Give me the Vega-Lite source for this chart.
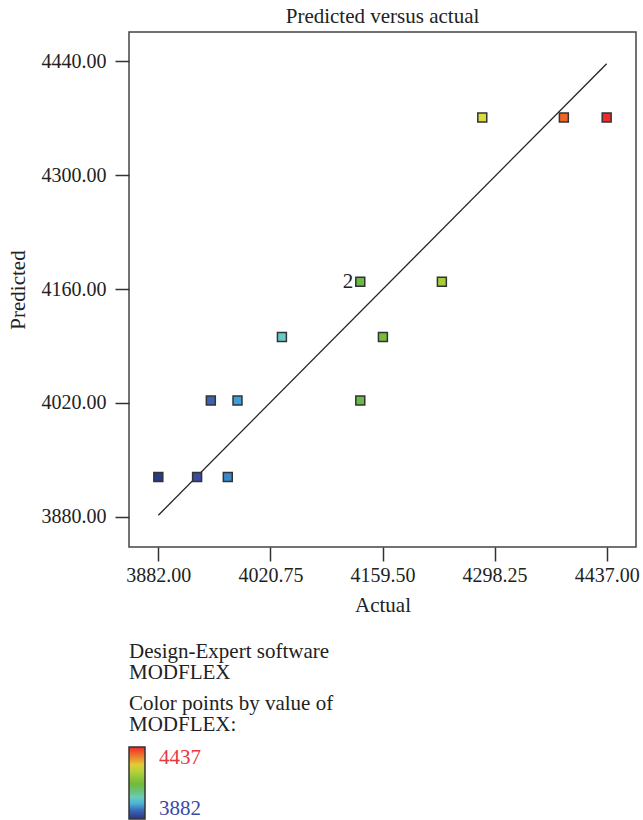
{
  "$schema": "https://vega.github.io/schema/vega-lite/v6.json",
  "width": 507,
  "height": 515,
  "autosize": {"type": "none"},
  "padding": {"left": 129, "top": 32, "right": 7, "bottom": 273},
  "background": "white",
  "title": {"text": "Predicted versus actual", "fontSize": 21, "font": "Liberation Serif", "fontWeight": "normal", "color": "#222", "offset": 5, "anchor": "middle"},
  "config": {
    "font": "Liberation Serif",
    "view": {"stroke": "#444", "strokeWidth": 1.5},
    "axis": {"domain": false, "grid": false, "tickColor": "#333", "tickWidth": 1.5, "tickSize": 14, "labelFont": "Liberation Serif", "labelFontSize": 20, "labelColor": "#222", "titleFont": "Liberation Serif", "titleFontSize": 21, "titleFontWeight": "normal", "titleColor": "#222"},
    "legend": {"titleFont": "Liberation Serif", "titleFontSize": 21, "titleFontWeight": "normal", "titleColor": "#222", "titleLineHeight": 21, "titleLimit": 400, "labelFont": "Liberation Serif", "labelFontSize": 21, "padding": 0}
  },
  "datasets": {
    "points": [
      {"actual": 3882, "predicted": 3929},
      {"actual": 3930, "predicted": 3929},
      {"actual": 3968, "predicted": 3929},
      {"actual": 3947, "predicted": 4023},
      {"actual": 3980, "predicted": 4023},
      {"actual": 4035, "predicted": 4101},
      {"actual": 4132, "predicted": 4169},
      {"actual": 4132, "predicted": 4023},
      {"actual": 4160, "predicted": 4101},
      {"actual": 4233, "predicted": 4169},
      {"actual": 4283, "predicted": 4371},
      {"actual": 4384, "predicted": 4371},
      {"actual": 4437, "predicted": 4371}
    ],
    "fit": [
      {"actual": 3882, "predicted": 3882},
      {"actual": 4437, "predicted": 4437}
    ],
    "labels": [
      {"actual": 4132, "predicted": 4169, "label": "2"}
    ]
  },
  "layer": [
    {
      "data": {"name": "fit"},
      "mark": {"type": "line", "color": "#222", "strokeWidth": 1.3},
      "encoding": {
        "x": {"field": "actual", "type": "quantitative", "scale": {"domain": [3845.7, 4473.3], "nice": false, "zero": false},
              "axis": {"title": "Actual", "values": [3882, 4020.75, 4159.5, 4298.25, 4437], "format": ".2f", "labelPadding": 4, "titlePadding": 9}},
        "y": {"field": "predicted", "type": "quantitative", "scale": {"domain": [3843, 4476], "nice": false, "zero": false},
              "axis": {"title": "Predicted", "values": [3880, 4020, 4160, 4300, 4440], "format": ".2f", "labelPadding": 9, "titlePadding": 13}}
      }
    },
    {
      "data": {"name": "points"},
      "mark": {"type": "point", "filled": true, "stroke": "#333", "strokeWidth": 1.5, "size": 80, "opacity": 1},
      "encoding": {
        "x": {"field": "actual", "type": "quantitative"},
        "y": {"field": "predicted", "type": "quantitative"},
        "color": {
          "field": "actual", "type": "quantitative",
          "scale": {"domain": [3882, 3935, 3985, 4040, 4140, 4235, 4285, 4385, 4437],
                    "range": ["#2a3a8a", "#3a4ea3", "#3aa8e0", "#6acfc8", "#6ab83a", "#a8cc3a", "#dede3a", "#f06428", "#ee2a2a"],
                    "interpolate": "rgb"},
          "legend": {"title": ["Color points by value of", "MODFLEX:"], "orient": "none", "legendX": 0, "legendY": 661,
                     "direction": "vertical", "gradientLength": 72, "gradientThickness": 16,
                     "gradientStrokeColor": "#333", "gradientStrokeWidth": 1.5,
                     "values": [3882, 4437], "format": "d", "labelOffset": 14, "titlePadding": 12,
                     "labelColor": {"expr": "datum.value > 4000 ? '#e8383d' : '#3a4aa8'"},
                     "encode": {"gradient": {"update": {"x": {"value": 5}}}}}
        },
        "shape": {"datum": "MODFLEX", "scale": {"range": ["square"]},
                  "legend": {"title": ["Design-Expert software", "MODFLEX"], "orient": "none", "legendX": 0, "legendY": 609,
                             "labelExpr": "''", "symbolOpacity": 0, "symbolSize": 0, "symbolStrokeWidth": 0}}
      }
    },
    {
      "data": {"name": "labels"},
      "mark": {"type": "text", "align": "right", "baseline": "middle", "dx": -7, "fontSize": 21, "color": "#222"},
      "encoding": {
        "x": {"field": "actual", "type": "quantitative"},
        "y": {"field": "predicted", "type": "quantitative"},
        "text": {"field": "label"}
      }
    }
  ]
}
